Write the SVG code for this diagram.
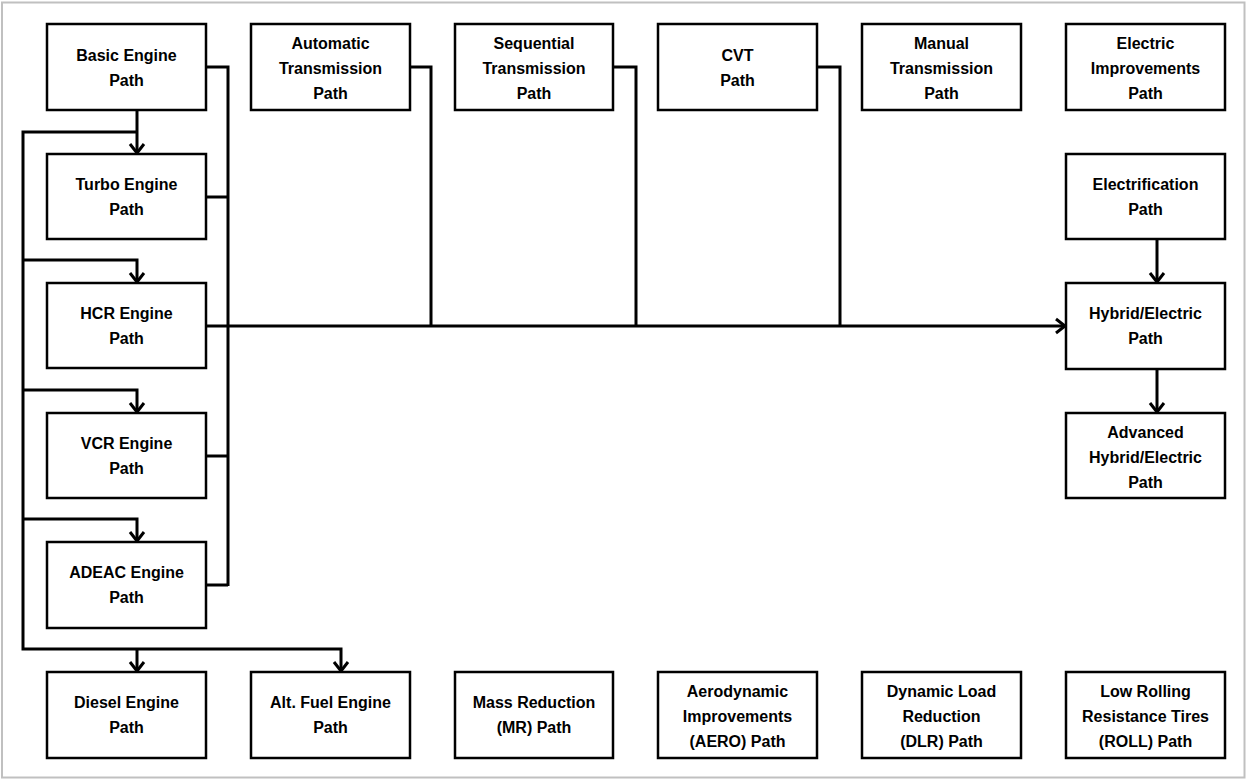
<svg xmlns="http://www.w3.org/2000/svg" width="1247" height="779" viewBox="0 0 1247 779">
<style>
.box{fill:#fff;stroke:#000;stroke-width:2.5}
.t{font-family:"Liberation Sans",Arial,sans-serif;font-weight:bold;font-size:16px;fill:#000;text-anchor:middle}
.c{fill:none;stroke:#000;stroke-width:3;stroke-linejoin:miter}
</style>
<defs>
<marker id="ah" markerUnits="userSpaceOnUse" markerWidth="20" markerHeight="20" viewBox="-12 -10 14 20" refX="0" refY="0" orient="auto">
<path d="M-9,-7 L0,0 L-9,7" fill="none" stroke="#000" stroke-width="3"/>
</marker>
</defs>
<rect x="2" y="2.5" width="1242.5" height="775" fill="#fff" stroke="#c0c0c0" stroke-width="2"/>
<g id="connectors">
<path class="c" d="M206,67 H228 V586"/>
<path class="c" d="M206,197 H228"/>
<path class="c" d="M206,456 H228"/>
<path class="c" d="M206,585 H228"/>
<path class="c" d="M206,326 H1065" marker-end="url(#ah)"/>
<path class="c" d="M410,67 H431 V326"/>
<path class="c" d="M613,67 H636 V326"/>
<path class="c" d="M817,67 H840 V326"/>
<path class="c" d="M137,110 V153" marker-end="url(#ah)"/>
<path class="c" d="M137,132 H23 V649 H341 V671" marker-end="url(#ah)"/>
<path class="c" d="M23,260 H137 V282" marker-end="url(#ah)"/>
<path class="c" d="M23,390 H137 V412" marker-end="url(#ah)"/>
<path class="c" d="M23,519 H137 V541" marker-end="url(#ah)"/>
<path class="c" d="M137,649 V671" marker-end="url(#ah)"/>
<path class="c" d="M1157,239 V282" marker-end="url(#ah)"/>
<path class="c" d="M1157,369 V412" marker-end="url(#ah)"/>
</g>
<g id="basic"><rect class="box" x="47" y="24" width="159" height="86"/><text class="t" x="126.5" y="61">Basic Engine</text><text class="t" x="126.5" y="86">Path</text></g>
<g id="turbo"><rect class="box" x="47" y="154" width="159" height="85"/><text class="t" x="126.5" y="190">Turbo Engine</text><text class="t" x="126.5" y="215">Path</text></g>
<g id="hcr"><rect class="box" x="47" y="283" width="159" height="85"/><text class="t" x="126.5" y="319">HCR Engine</text><text class="t" x="126.5" y="344">Path</text></g>
<g id="vcr"><rect class="box" x="47" y="413" width="159" height="85"/><text class="t" x="126.5" y="449">VCR Engine</text><text class="t" x="126.5" y="474">Path</text></g>
<g id="adeac"><rect class="box" x="47" y="542" width="159" height="86"/><text class="t" x="126.5" y="578">ADEAC Engine</text><text class="t" x="126.5" y="603">Path</text></g>
<g id="diesel"><rect class="box" x="47" y="672" width="159" height="86"/><text class="t" x="126.5" y="708">Diesel Engine</text><text class="t" x="126.5" y="733">Path</text></g>
<g id="altfuel"><rect class="box" x="251" y="672" width="159" height="86"/><text class="t" x="330.5" y="708">Alt. Fuel Engine</text><text class="t" x="330.5" y="733">Path</text></g>
<g id="automatic"><rect class="box" x="251" y="24" width="159" height="86"/><text class="t" x="330.5" y="49">Automatic</text><text class="t" x="330.5" y="74">Transmission</text><text class="t" x="330.5" y="99">Path</text></g>
<g id="sequential"><rect class="box" x="455" y="24" width="158" height="86"/><text class="t" x="534" y="49">Sequential</text><text class="t" x="534" y="74">Transmission</text><text class="t" x="534" y="99">Path</text></g>
<g id="cvt"><rect class="box" x="658" y="24" width="159" height="86"/><text class="t" x="737.5" y="61">CVT</text><text class="t" x="737.5" y="86">Path</text></g>
<g id="manual"><rect class="box" x="862" y="24" width="159" height="86"/><text class="t" x="941.5" y="49">Manual</text><text class="t" x="941.5" y="74">Transmission</text><text class="t" x="941.5" y="99">Path</text></g>
<g id="electricimp"><rect class="box" x="1066" y="24" width="159" height="86"/><text class="t" x="1145.5" y="49">Electric</text><text class="t" x="1145.5" y="74">Improvements</text><text class="t" x="1145.5" y="99">Path</text></g>
<g id="electrification"><rect class="box" x="1066" y="154" width="159" height="85"/><text class="t" x="1145.5" y="190">Electrification</text><text class="t" x="1145.5" y="215">Path</text></g>
<g id="hybrid"><rect class="box" x="1066" y="283" width="159" height="86"/><text class="t" x="1145.5" y="319">Hybrid/Electric</text><text class="t" x="1145.5" y="344">Path</text></g>
<g id="advhybrid"><rect class="box" x="1066" y="413" width="159" height="85"/><text class="t" x="1145.5" y="438">Advanced</text><text class="t" x="1145.5" y="463">Hybrid/Electric</text><text class="t" x="1145.5" y="488">Path</text></g>
<g id="mass"><rect class="box" x="455" y="672" width="158" height="86"/><text class="t" x="534" y="708">Mass Reduction</text><text class="t" x="534" y="733">(MR) Path</text></g>
<g id="aero"><rect class="box" x="658" y="672" width="159" height="86"/><text class="t" x="737.5" y="697">Aerodynamic</text><text class="t" x="737.5" y="722">Improvements</text><text class="t" x="737.5" y="747">(AERO) Path</text></g>
<g id="dlr"><rect class="box" x="862" y="672" width="159" height="86"/><text class="t" x="941.5" y="697">Dynamic Load</text><text class="t" x="941.5" y="722">Reduction</text><text class="t" x="941.5" y="747">(DLR) Path</text></g>
<g id="roll"><rect class="box" x="1066" y="672" width="159" height="86"/><text class="t" x="1145.5" y="697">Low Rolling</text><text class="t" x="1145.5" y="722">Resistance Tires</text><text class="t" x="1145.5" y="747">(ROLL) Path</text></g>
</svg>
